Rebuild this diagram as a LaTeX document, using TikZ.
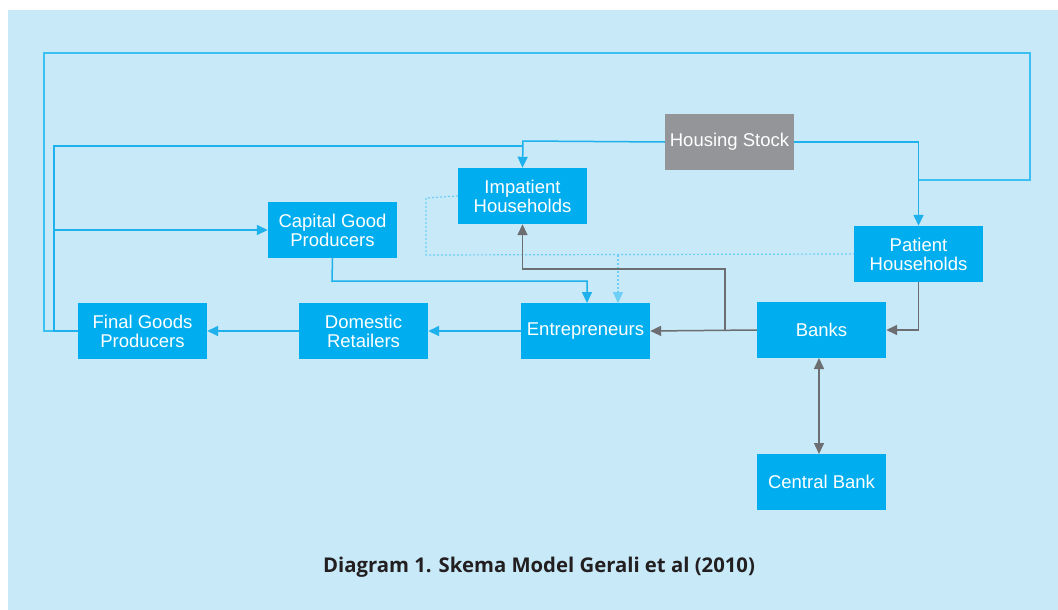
\documentclass[tikz,border=0pt]{standalone}
\usepackage{fontspec}
\setmainfont{Liberation Sans}
\newfontfamily\captionfont{Open Sans}
\usetikzlibrary{arrows.meta}
\definecolor{bgblue}{HTML}{C7E9F8}
\definecolor{boxblue}{HTML}{00AEEF}
\definecolor{lineblue}{HTML}{1EB1EC}
\definecolor{loopblue}{HTML}{3CC0F2}
\definecolor{dotblue}{HTML}{6DCFF6}
\definecolor{stockgray}{HTML}{939598}
\definecolor{linegray}{HTML}{6D6E71}
\definecolor{captiongray}{HTML}{231F20}
\tikzset{
  agent/.style={fill=boxblue, text=white, minimum width=129pt, minimum height=56pt,
    inner sep=0pt, align=center, font=\fontsize{18.5}{19}\selectfont},
  flow/.style={draw=lineblue, line width=1.5pt},
  loopflow/.style={draw=loopblue, line width=1.8pt},
  finflow/.style={draw=linegray, line width=1.5pt},
  dotflow/.style={draw=dotblue, line width=1.2pt, dash pattern=on 2pt off 2pt},
  tip/.style={-{Triangle[length=11pt,width=10pt]}},
  bothtips/.style={{Triangle[length=11pt,width=10pt]}-{Triangle[length=11pt,width=10pt]}}
}
\begin{document}
\begin{tikzpicture}[x=1pt,y=-1pt]
\useasboundingbox (0,0) rectangle (1058,610);
\fill[bgblue] (8,10) rectangle (1058,610);

% agents of the model
\node[agent, fill=stockgray] (hs) at (729.5,142) {Housing Stock};
\node[agent] (ih) at (522.5,196) {Impatient\\Households};
\node[agent] (cgp) at (332.5,230) {Capital Good\\Producers};
\node[agent] (ph) at (918.5,254) {Patient\\Households};
\node[agent] (fg) at (142.5,331) {Final Goods\\Producers};
\node[agent] (dr) at (363.5,331) {Domestic\\Retailers};
\node[agent] (ent) at (585.5,331) {Entrepreneurs};
\node[agent] (banks) at (821.5,330) {Banks};
\node[agent] (cb) at (821.5,482) {Central Bank};

\coordinate (outerjoin) at (919,180);
\coordinate (innerjoin) at (523,141);

% final goods feed back to the rest of the economy
\draw[loopflow] (fg.west) -- (44,331) -- (44,53) -- (1030,53) -- (1030,180) -- (outerjoin);
\draw[flow] (fg.west) -- (54,331) -- (54,146) -- (523,146);
\draw[flow, tip] (54,230) -- (cgp.west);

% housing stock
\draw[flow, tip] (hs.west) -- (innerjoin) -- (ih.north);
\draw[flow, tip] (hs.east) -| (ph.north);

% production chain
\draw[flow, tip] (cgp.south) -- (332,281) -| (587,303);
\draw[flow, tip] (ent.west) -- (dr.east);
\draw[flow, tip] (dr.west) -- (fg.east);

% labour supply (dotted)
\draw[dotflow] (ih.west) -- (426,198) -- (426,255) -- (ph.west);
\draw[dotflow, tip] (618,255) -- (618,303);

% financial flows
\draw[finflow, tip] (banks.west) -- (ent.east);
\draw[finflow, tip] (725,330) -- (725,269) -| (ih.south);
\draw[finflow, tip] (ph.south) |- (banks.east);
\draw[finflow, bothtips] (819,358) -- (819,454);

\node[font=\captionfont\bfseries\fontsize{20.3}{22}\selectfont, text=captiongray] (caption) at (539,567) {Diagram 1. Skema Model Gerali et al (2010)};
\end{tikzpicture}
\end{document}
